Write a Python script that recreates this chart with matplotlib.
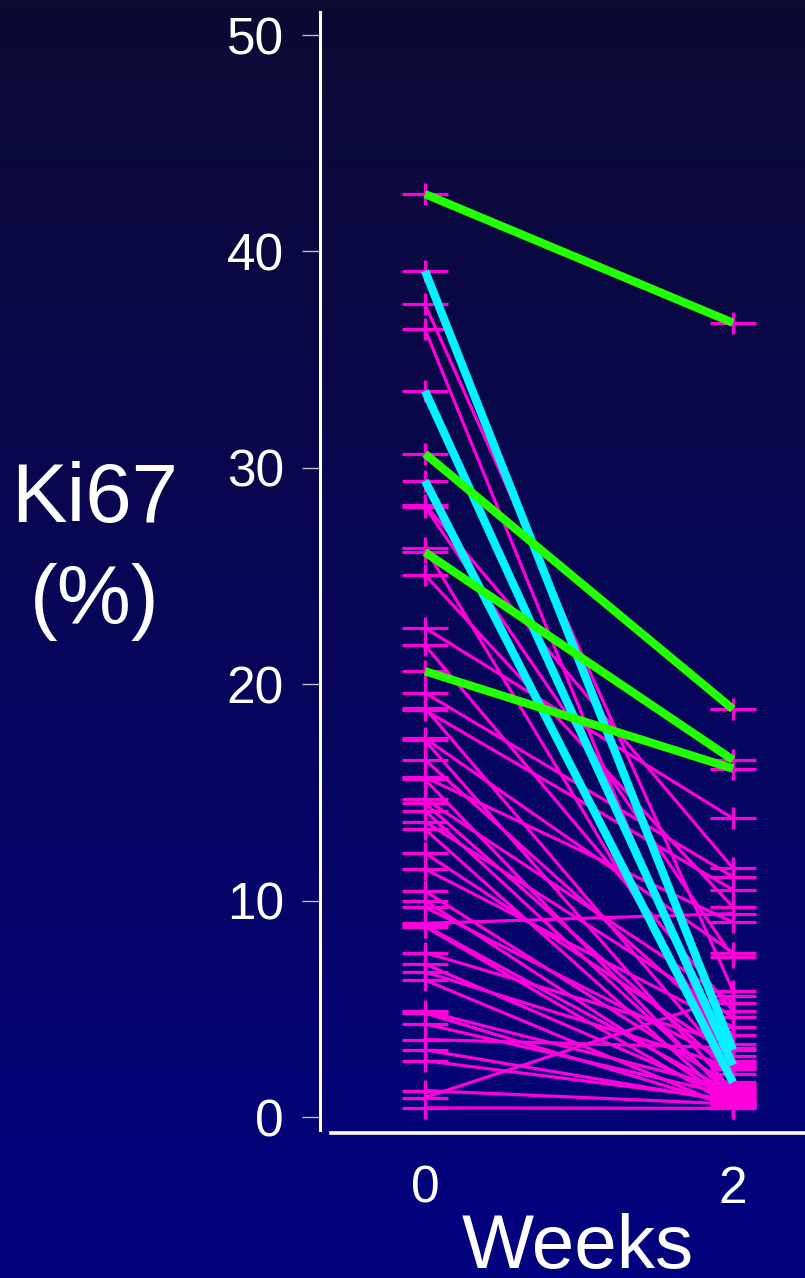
import numpy as np
import matplotlib
matplotlib.use("Agg")
import matplotlib.pyplot as plt

plt.rcParams['font.family'] = ['Liberation Sans', 'DejaVu Sans']

# Ki67 (%) at week 0 and week 2, one entry per patient
weeks = [0, 2]

magenta_w0 = [37.55, 36.4, 28.3, 28.2, 26.3, 25.05, 22.6, 21.8, 19.6, 18.9,
              18.8, 17.5, 17.4, 16.5, 15.7, 15.6, 14.7, 14.5, 14.15, 13.65,
              13.3, 12.2, 11.46, 10.44, 10.0, 9.7, 8.95, 8.85, 8.8, 7.6,
              7.07, 6.7, 6.33, 4.9, 4.8, 4.3, 3.58, 3.1, 2.6, 1.22,
              0.9, 0.42]
magenta_w2 = [5.84, 1.5, 11.5, 7.4, 2.6, 9.7, 13.8, 4.92, 11.1, 2.2,
              10.5, 7.6, 1.2, 3.8, 9.0, 0.8, 5.29, 2.0, 1.0, 4.62,
              0.6, 2.8, 4.16, 1.4, 0.7, 2.5, 9.4, 1.1, 0.5, 3.37,
              0.9, 2.3, 0.4, 1.3, 0.5, 1.0, 3.2, 0.7, 0.8, 0.6,
              5.6, 0.4]

cyan_w0 = [39.1, 33.55, 29.4]
cyan_w2 = [3.1, 2.4, 1.6]

green_w0 = [42.65, 30.65, 26.1, 20.6]
green_w2 = [36.7, 18.85, 16.5, 16.1]

yticks = [0, 10, 20, 30, 40, 50]
xticks = [0, 2]

MAGENTA = '#ff00dd'
CYAN = '#00f4ff'
GREEN = '#22ff00'

fig = plt.figure(figsize=(8.05, 12.78), dpi=100)

# background gradient
bg = fig.add_axes([0, 0, 1, 1], zorder=-10)
top = np.array([12, 10, 50]) / 255
bottom = np.array([2, 2, 128]) / 255
t = np.linspace(0, 1, 256)[:, None]
grad = top * (1 - t) + bottom * t
bg.imshow(grad[:, None, :], aspect='auto', extent=[0, 1, 0, 1])
bg.axis('off')

W, H = 805, 1278
ax = fig.add_axes([320 / W, (H - 1133) / H, (805 - 320) / W, (1133 - 12) / H])
ax.set_facecolor('none')
ax.set_xlim(-0.682, 2.468)
ax.set_ylim(-0.739, 51.063)

all_w0 = magenta_w0 + cyan_w0 + green_w0
all_w2 = magenta_w2 + cyan_w2 + green_w2

# crosses at every measurement
for xs, ys in [(0, all_w0), (2, all_w2)]:
    xv = [xs] * len(ys)
    ax.plot(xv, ys, ls='none', marker='_', ms=33, mew=2.3, color=MAGENTA, zorder=2)
    ax.plot(xv, ys, ls='none', marker='|', ms=16, mew=2.3, color=MAGENTA, zorder=2)

ax.plot(weeks, np.vstack([magenta_w0, magenta_w2]), color=MAGENTA, lw=2.3, zorder=3,
        solid_capstyle='butt')
ax.plot(weeks, np.vstack([cyan_w0, cyan_w2]), color=CYAN, lw=6, zorder=4,
        solid_capstyle='butt')
ax.plot(weeks, np.vstack([green_w0, green_w2]), color=GREEN, lw=6, zorder=4,
        solid_capstyle='butt')

for s in ['top', 'right']:
    ax.spines[s].set_visible(False)
ax.spines['left'].set_color('white')
ax.spines['left'].set_linewidth(2.2)
ax.spines['left'].set_bounds(-0.6, 51.063)
ax.spines['bottom'].set_color('white')
ax.spines['bottom'].set_linewidth(2.6)
ax.spines['bottom'].set_bounds(-0.61, 2.468)

ax.set_yticks(yticks)
ax.set_xticks(xticks)
ax.tick_params(axis='y', length=13, width=0.9, color='#c8c8d0', labelcolor='white',
               labelsize=37, pad=13)
ax.tick_params(axis='x', length=0, labelcolor='white', labelsize=37, pad=23)

fig.text(578 / W, 1 - 1268 / H, 'Weeks', color='white', fontsize=55,
         ha='center', va='baseline')
fig.text(95 / W, 1 - 522 / H, 'Ki67', color='white', fontsize=60,
         ha='center', va='baseline')
fig.text(95 / W, 1 - 624 / H, '(%)', color='white', fontsize=60,
         ha='center', va='baseline')

fig.savefig('out.png', dpi=100)
